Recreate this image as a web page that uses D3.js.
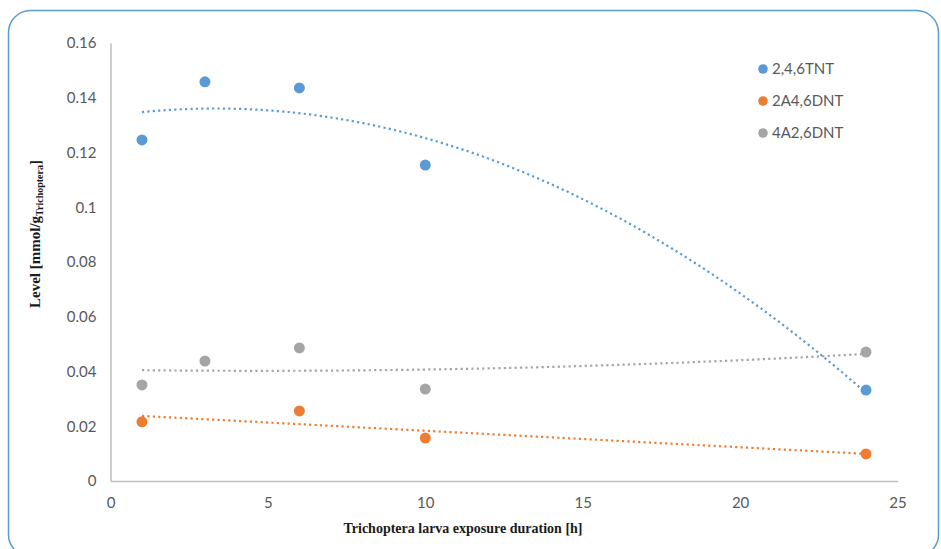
<!DOCTYPE html>
<html>
<head>
<meta charset="utf-8">
<script src="https://cdn.jsdelivr.net/npm/d3@7"></script>
<style>
  html, body { margin: 0; padding: 0; background: #ffffff; }
  svg { display: block; }
</style>
</head>
<body>
<svg id="chart" width="941" height="549"></svg>
<script>
// Exposure times (h) and measured levels (mmol/g Trichoptera)
const tntHours = [1, 3, 6, 10, 24];
const tntLevels = [0.1246, 0.1458, 0.1436, 0.1154, 0.0332];

const dnt2aHours = [1, 6, 10, 24];
const dnt2aLevels = [0.0216, 0.0256, 0.0157, 0.0099];

const dnt4aHours = [1, 3, 6, 10, 24];
const dnt4aLevels = [0.0351, 0.0438, 0.0486, 0.0336, 0.0471];

const seriesNames = ["2,4,6TNT", "2A4,6DNT", "4A2,6DNT"];
const trendOrders = [2, 1, 2];

const xTicks = [0, 5, 10, 15, 20, 25];
const yTicks = [0, 0.02, 0.04, 0.06, 0.08, 0.1, 0.12, 0.14, 0.16];

const colors = ["#5b9bd5", "#ed7d31", "#a5a5a5"];

const svg = d3.select("#chart");

// rounded frame
svg.append("rect")
  .attr("x", 8.5).attr("y", 10.5)
  .attr("width", 930).attr("height", 546)
  .attr("rx", 22).attr("ry", 22)
  .attr("fill", "#ffffff")
  .attr("stroke", "#5b9bd5")
  .attr("stroke-width", 1.5);

const x = d3.scaleLinear().domain([0, 25]).range([110.5, 897.5]);
const y = d3.scaleLinear().domain([0, 0.16]).range([481, 43]);

const tickFont = "Lato, 'Open Sans', 'Liberation Sans', sans-serif";

// y axis
const yAxis = svg.append("g")
  .attr("transform", `translate(${x(0)},0)`)
  .call(d3.axisLeft(y).tickValues(yTicks).tickSize(0).tickPadding(14)
    .tickFormat(d => d === 0 ? "0" : String(+d.toFixed(2))));
yAxis.select(".domain").attr("stroke", "#bfbfbf").attr("stroke-width", 1.5);
yAxis.selectAll("text")
  .attr("font-family", tickFont).attr("font-size", 15)
  .attr("fill", "#595959");

// x axis
const xAxis = svg.append("g")
  .attr("transform", `translate(0,${y(0)})`)
  .call(d3.axisBottom(x).tickValues(xTicks).tickSize(0).tickPadding(16)
    .tickFormat(d3.format("d")));
xAxis.select(".domain").attr("stroke", "#bfbfbf").attr("stroke-width", 1.5);
xAxis.selectAll("text")
  .attr("font-family", tickFont).attr("font-size", 15)
  .attr("fill", "#595959");

// least-squares polynomial fit
function polyFit(xs, ys, order) {
  const n = order + 1;
  const A = Array.from({length: n}, () => new Array(n + 1).fill(0));
  for (let i = 0; i < xs.length; i++) {
    for (let r = 0; r < n; r++) {
      for (let c = 0; c < n; c++) A[r][c] += Math.pow(xs[i], r + c);
      A[r][n] += ys[i] * Math.pow(xs[i], r);
    }
  }
  for (let p = 0; p < n; p++) {
    let best = p;
    for (let r = p + 1; r < n; r++) if (Math.abs(A[r][p]) > Math.abs(A[best][p])) best = r;
    [A[p], A[best]] = [A[best], A[p]];
    for (let r = 0; r < n; r++) {
      if (r === p) continue;
      const f = A[r][p] / A[p][p];
      for (let c = p; c <= n; c++) A[r][c] -= f * A[p][c];
    }
  }
  const coef = A.map((row, i) => row[n] / row[i]);
  return t => coef.reduce((s, c, i) => s + c * Math.pow(t, i), 0);
}

const series = [
  {hours: tntHours, levels: tntLevels},
  {hours: dnt2aHours, levels: dnt2aLevels},
  {hours: dnt4aHours, levels: dnt4aLevels}
];

const line = d3.line().x(d => x(d[0])).y(d => y(d[1])).curve(d3.curveLinear);

// dotted trendlines
series.forEach((s, i) => {
  const f = polyFit(s.hours, s.levels, trendOrders[i]);
  const lo = d3.min(s.hours), hi = d3.max(s.hours);
  const pts = d3.range(0, 201).map(k => {
    const t = lo + (hi - lo) * k / 200;
    return [t, f(t)];
  });
  svg.append("path")
    .datum(pts)
    .attr("d", line)
    .attr("fill", "none")
    .attr("stroke", colors[i])
    .attr("stroke-width", 2.2)
    .attr("stroke-dasharray", "2.2 3.2");
});

// data markers
series.forEach((s, i) => {
  svg.append("g").selectAll("circle")
    .data(s.hours.map((h, k) => [h, s.levels[k]]))
    .join("circle")
    .attr("cx", d => x(d[0]))
    .attr("cy", d => y(d[1]))
    .attr("r", 5.5)
    .attr("fill", colors[i]);
});

// legend
const legend = svg.append("g");
seriesNames.forEach((name, i) => {
  const ly = 69 + i * 32;
  legend.append("circle")
    .attr("cx", 763).attr("cy", ly).attr("r", 4.8)
    .attr("fill", colors[i]);
  legend.append("text")
    .attr("x", 772).attr("y", ly)
    .attr("dy", "0.35em")
    .attr("font-family", tickFont).attr("font-size", 15)
    .attr("fill", "#595959")
    .text(name);
});

// axis titles
svg.append("text")
  .attr("x", 463).attr("y", 533)
  .attr("text-anchor", "middle")
  .attr("font-family", "'Liberation Serif', 'Times New Roman', serif")
  .attr("font-weight", "bold").attr("font-size", 14)
  .attr("fill", "#1a1a1a")
  .text("Trichoptera larva exposure duration [h]");

const yTitle = svg.append("text")
  .attr("transform", "translate(40,234) rotate(-90)")
  .attr("text-anchor", "middle")
  .attr("font-family", "'Liberation Serif', 'Times New Roman', serif")
  .attr("font-weight", "bold").attr("font-size", 15)
  .attr("fill", "#1a1a1a");
yTitle.append("tspan").text("Level [mmol/g");
yTitle.append("tspan").attr("font-size", 10).attr("dy", 3).text("Trichoptera");
yTitle.append("tspan").attr("dy", -3).text("]");
</script>
</body>
</html>
